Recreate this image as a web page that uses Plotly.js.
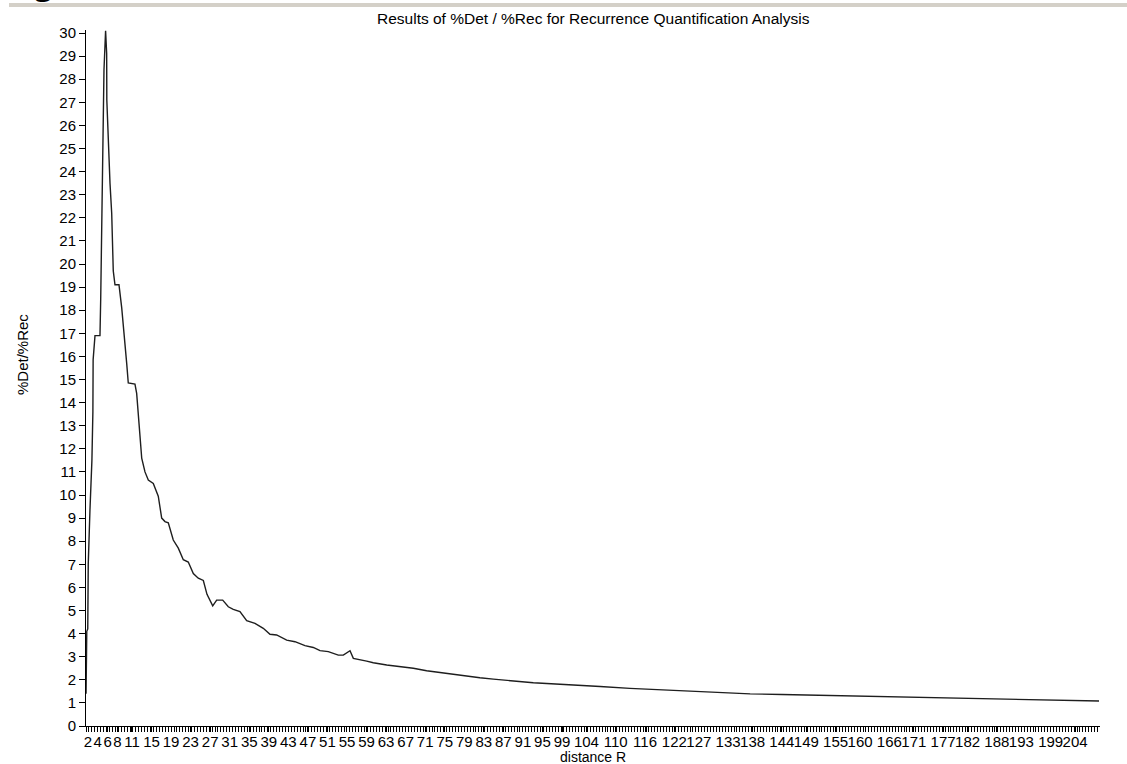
<!DOCTYPE html>
<html>
<head>
<meta charset="utf-8">
<script src="https://cdn.plot.ly/plotly-3.0.1.min.js"></script>
<style>
  html, body { margin: 0; padding: 0; background: #ffffff; }
  #chart { width: 1127px; height: 764px; }
</style>
</head>
<body>
<div id="chart"></div>
<script>
// distance R (x) and %Det/%Rec (y)
const distanceR = [
  1.6, 1.75, 1.95, 2.05, 2.4, 2.8, 3.0, 3.05, 3.43, 4.45, 4.6, 4.8, 5.0, 5.27, 5.6,
  5.82, 5.85, 6.15, 6.5, 6.85, 7.17, 7.52, 8.34, 8.9, 9.16, 9.57, 9.92, 10.24,
  11.61, 11.96, 12.29, 12.64, 12.99, 13.66, 14.34, 15.36, 16.38, 17.08, 17.75,
  18.43, 19.45, 20.48, 21.5, 22.52, 23.55, 24.57, 25.6, 26.35, 27.52, 28.33,
  29.56, 30.71, 31.73, 33.1, 34.47, 36.17, 37.87, 39.24, 40.6, 42.66, 44.36,
  46.4, 48.1, 49.48, 51.18, 53.22, 54.25, 55.62, 56.3, 59.03, 60.38, 63.13,
  65.85, 68.57, 71.3, 74.04, 76.76, 79.5, 82.2, 84.95, 87.7, 90.4, 93.13,
  95.86, 98.6, 102.7, 106.8, 112.9, 119.7, 127.3, 132.8, 137.5, 144.0, 154.7,
  165.6, 180.7, 201.7, 208.9
];
const detRec = [
  1.4, 4.1, 4.2, 7.0, 9.35, 11.5, 13.6, 15.85, 16.9, 16.9, 18.5, 21.9, 25.15, 28.4, 30.1,
  29.1, 27.1, 25.1, 23.5, 22.2, 19.7, 19.1, 19.1, 18.1, 17.5, 16.8, 15.7, 14.85,
  14.8, 14.4, 13.5, 12.5, 11.6, 11.0, 10.65, 10.5, 9.95, 9.0, 8.85,
  8.8, 8.05, 7.7, 7.2, 7.1, 6.6, 6.4, 6.3, 5.7, 5.2, 5.45,
  5.45, 5.16, 5.05, 4.95, 4.56, 4.44, 4.23, 3.97, 3.94, 3.72, 3.65,
  3.48, 3.4, 3.26, 3.22, 3.07, 3.07, 3.26, 2.93, 2.81, 2.74, 2.64,
  2.57, 2.5, 2.39, 2.31, 2.25, 2.16, 2.09, 2.03, 1.97, 1.94, 1.87,
  1.84, 1.80, 1.74, 1.71, 1.63, 1.56, 1.48, 1.42, 1.39, 1.365, 1.32,
  1.265, 1.195, 1.12, 1.08
];
const xTickVals = [2, 4, 6, 8, 11, 15, 19, 23, 27, 31, 35, 39, 43, 47, 51, 55, 59, 63,
  67, 71, 75, 79, 83, 87, 91, 95, 99, 104, 110, 116, 122, 127, 133, 138, 144, 149,
  155, 160, 166, 171, 177, 182, 188, 193, 199, 204];
const xTickText = xTickVals.map(String);

const chartTitle = 'Results of %Det / %Rec for Recurrence Quantification Analysis';
const xTitle = 'distance R';
const yTitle = '%Det/%Rec';

const W = 1127, H = 764;
const M = { l: 86, r: 27, t: 30, b: 38 };
const plotW = W - M.l - M.r, plotH = H - M.t - M.b;
const px2paperX = p => (p - M.l) / plotW;
const px2paperY = p => (H - M.b - p) / plotH;

const font = 'Liberation Sans, Arial, sans-serif';

const trace = {
  x: distanceR,
  y: detRec,
  type: 'scatter',
  mode: 'lines',
  line: { color: '#1e1e1e', width: 1.4 },
  hoverinfo: 'x+y'
};

const layout = {
  width: W, height: H,
  margin: M,
  paper_bgcolor: '#ffffff',
  plot_bgcolor: '#ffffff',
  showlegend: false,
  font: { family: font, size: 14, color: '#000000' },
  xaxis: {
    range: [1.59, 209.1],
    showgrid: false, zeroline: false,
    showline: true, linecolor: '#000000', linewidth: 1,
    ticks: 'outside', ticklen: 5, tickwidth: 1, tickcolor: '#000000',
    tickmode: 'array', tickvals: xTickVals, ticktext: xTickText,
    tickangle: 0,
    ticklabelstandoff: -3,
    tickfont: { family: font, size: 15, color: '#000000' },
    minor: { dtick: 0.6, tick0: 1.6, ticks: 'outside', ticklen: 5, tickwidth: 1, tickcolor: '#000000', showgrid: false },
    fixedrange: true
  },
  yaxis: {
    range: [0, 30.13],
    showgrid: false, zeroline: false,
    showline: true, linecolor: '#000000', linewidth: 1,
    ticks: 'outside', ticklen: 6, tickwidth: 1, tickcolor: '#000000',
    dtick: 1, tick0: 0,
    tickfont: { family: font, size: 15, color: '#000000' },
    fixedrange: true
  },
  shapes: [
    { type: 'line', xref: 'paper', yref: 'paper',
      x0: px2paperX(9), x1: px2paperX(1127), y0: px2paperY(5), y1: px2paperY(5),
      line: { color: '#d4d0c8', width: 4 } }
  ],
  annotations: [
    { text: chartTitle, xref: 'paper', yref: 'paper', x: 0.5, y: px2paperY(18),
      xanchor: 'center', yanchor: 'middle', showarrow: false,
      font: { family: font, size: 15.5, color: '#000000' } },
    { text: xTitle, xref: 'paper', yref: 'paper', x: 0.5, y: px2paperY(757),
      xanchor: 'center', yanchor: 'middle', showarrow: false,
      font: { family: font, size: 14, color: '#000000' } },
    { text: yTitle, xref: 'paper', yref: 'paper', x: px2paperX(22), y: px2paperY(355),
      xanchor: 'center', yanchor: 'middle', showarrow: false, textangle: -90,
      font: { family: font, size: 15, color: '#000000' } },
    { text: '<b>Fig</b>', xref: 'paper', yref: 'paper', x: px2paperX(0), y: px2paperY(4),
      xanchor: 'left', yanchor: 'bottom', showarrow: false,
      font: { family: 'Liberation Serif, Times New Roman, serif', size: 36, color: '#000000' } }
  ]
};

Plotly.newPlot('chart', [trace], layout, { displayModeBar: false, staticPlot: true });
</script>
</body>
</html>
